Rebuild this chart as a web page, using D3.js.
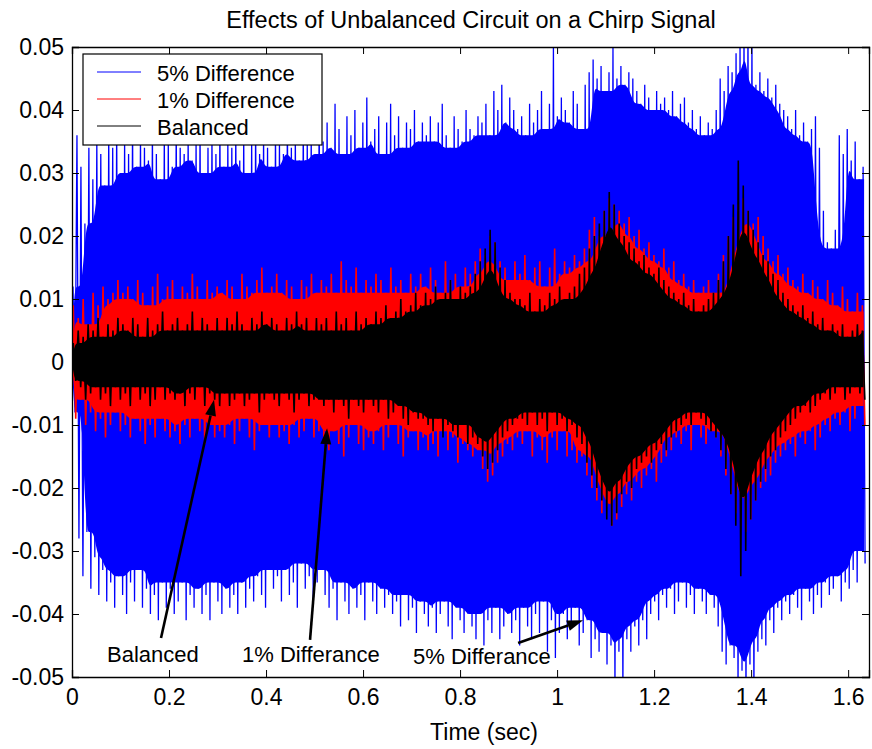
<!DOCTYPE html>
<html><head><meta charset="utf-8">
<script src="https://cdn.jsdelivr.net/npm/d3@7/dist/d3.min.js"></script>
<style>
body{margin:0;background:#fff;}
text{font-family:Arial,"Liberation Sans",Helvetica,sans-serif;fill:#000;}
</style>
</head><body>
<svg id="chart" width="872" height="749"></svg>
<script>
// ---------------- data ----------------
const chartTitle = "Effects of Unbalanced Circuit on a Chirp Signal";
const xAxisLabel = "Time (sec)";
const xTickValues = [0, 0.2, 0.4, 0.6, 0.8, 1.0, 1.2, 1.4, 1.6];
const xTickLabels = ["0", "0.2", "0.4", "0.6", "0.8", "1", "1.2", "1.4", "1.6"];
const yTickValues = [0.05, 0.04, 0.03, 0.02, 0.01, 0, -0.01, -0.02, -0.03, -0.04, -0.05];
const yTickLabels = ["0.05", "0.04", "0.03", "0.02", "0.01", "0", "-0.01", "-0.02", "-0.03", "-0.04", "-0.05"];
const xDomain = [0, 1.643];
const yDomain = [-0.05, 0.05];
const signalDuration = 1.637; // seconds

const seriesNames = ["5% Difference", "1% Difference", "Balanced"];
const seriesColors = ["#0000ff", "#ff0000", "#000000"];

// 5% difference: successive positive / negative peaks
const blueUpper = [
 .012,.036,.031,.022,.034,.029,.035,.033,.028,.036,
 .034,.037,.030,.035,.033,.038,.031,.036,.034,.032,
 .037,.033,.029,.036,.035,.031,.038,.034,.033,.036,
 .032,.035,.037,.030,.034,.036,.033,.038,.031,.035,
 .034,.037,.032,.036,.030,.035,.038,.033,.036,.034,
 .031,.037,.035,.033,.039,.034,.036,.032,.038,.035,
 .036,.033,.040,.035,.038,.034,.041,.037,.033,.039,
 .036,.040,.034,.038,.042,.035,.037,.039,.033,.038,
 .041,.036,.039,.034,.038,.037,.040,.035,.038,.036,
 .039,.035,.038,.041,.036,.034,.039,.037,.035,.040,
 .037,.036,.039,.038,.041,.036,.043,.040,.044,.038,
 .042,.040,.037,.039,.036,.041,.038,.040,.043,.037,
 .041,.050,.039,.042,.040,.038,.043,.041,.037,.044,
 .046,.048,.045,.047,.043,.046,.050,.045,.047,.044,
 .046,.045,.043,.041,.044,.042,.040,.043,.041,.042,
 .040,.043,.039,.041,.042,.038,.040,.037,.039,.036,
 .038,.037,.040,.045,.043,.047,.046,.049,.050,.052,
 .053,.051,.044,.046,.043,.045,.042,.044,.041,.040,
 .039,.037,.040,.036,.038,.035,.037,.039,.034,.024,
 .019,.018,.021,.036,.033,.037,.032,.035,.029,.031];
const blueLower = [
 -.008,-.028,-.034,-.027,-.036,-.031,-.037,-.033,-.038,-.035,
 -.039,-.034,-.037,-.040,-.035,-.038,-.033,-.039,-.036,-.040,
 -.037,-.041,-.035,-.039,-.036,-.040,-.038,-.035,-.041,-.037,
 -.039,-.036,-.040,-.037,-.041,-.035,-.038,-.040,-.036,-.039,
 -.037,-.040,-.035,-.039,-.036,-.038,-.034,-.037,-.039,-.033,
 -.036,-.034,-.038,-.033,-.037,-.035,-.039,-.032,-.036,-.034,
 -.038,-.035,-.033,-.037,-.039,-.036,-.041,-.035,-.038,-.040,
 -.036,-.039,-.037,-.041,-.035,-.038,-.040,-.036,-.039,-.037,
 -.040,-.038,-.042,-.037,-.041,-.039,-.043,-.038,-.040,-.042,
 -.039,-.043,-.040,-.038,-.042,-.044,-.039,-.041,-.043,-.040,
 -.042,-.044,-.040,-.045,-.041,-.043,-.039,-.044,-.042,-.040,
 -.043,-.041,-.045,-.039,-.042,-.044,-.040,-.043,-.038,-.046,
 -.041,-.047,-.043,-.040,-.044,-.042,-.039,-.045,-.043,-.041,
 -.047,-.044,-.046,-.043,-.048,-.045,-.052,-.046,-.053,-.044,
 -.046,-.042,-.045,-.041,-.044,-.040,-.038,-.041,-.037,-.039,
 -.036,-.040,-.038,-.035,-.039,-.037,-.040,-.036,-.038,-.040,
 -.037,-.039,-.042,-.046,-.048,-.045,-.047,-.052,-.049,-.054,
 -.048,-.053,-.046,-.044,-.045,-.041,-.043,-.039,-.041,-.038,
 -.040,-.037,-.039,-.041,-.036,-.038,-.040,-.037,-.039,-.035,
 -.037,-.036,-.034,-.038,-.035,-.036,-.033,-.035,-.030,-.032];

// 1% difference
const redUpper = [
 .009,.007,.010,.006,.011,.009,.012,.010,.011,.013,
 .011,.012,.010,.013,.011,.009,.012,.014,.010,.012,
 .013,.010,.012,.011,.014,.012,.010,.013,.011,.012,
 .011,.013,.012,.010,.014,.012,.011,.013,.015,.011,
 .012,.014,.011,.013,.012,.010,.013,.012,.014,.011,
 .013,.012,.014,.011,.016,.013,.012,.015,.011,.013,
 .012,.014,.013,.011,.015,.012,.013,.011,.014,.012,
 .014,.012,.015,.013,.011,.016,.013,.014,.012,.015,
 .014,.016,.018,.017,.020,.019,.016,.015,.013,.016,
 .014,.017,.013,.015,.016,.012,.015,.018,.014,.016,
 .015,.017,.016,.018,.021,.023,.020,.024,.026,.025,
 .024,.022,.023,.020,.021,.018,.019,.017,.016,.018,
 .015,.016,.013,.014,.012,.013,.011,.012,.013,.011,
 .014,.017,.020,.023,.025,.026,.024,.022,.023,.020,
 .018,.016,.017,.014,.015,.013,.012,.014,.011,.013,
 .012,.010,.013,.011,.009,.012,.010,.008,.011,.009];
const redLower = [
 -.009,-.006,-.010,-.008,-.011,-.009,-.012,-.010,-.008,-.011,
 -.010,-.012,-.009,-.011,-.013,-.010,-.012,-.009,-.011,-.012,
 -.011,-.013,-.010,-.012,-.009,-.011,-.013,-.010,-.012,-.011,
 -.012,-.010,-.013,-.011,-.009,-.012,-.014,-.011,-.010,-.012,
 -.010,-.012,-.011,-.013,-.010,-.012,-.011,-.009,-.012,-.011,
 -.012,-.014,-.011,-.013,-.015,-.012,-.010,-.013,-.014,-.012,
 -.013,-.011,-.014,-.012,-.010,-.013,-.015,-.012,-.011,-.014,
 -.012,-.014,-.013,-.015,-.011,-.014,-.012,-.016,-.013,-.014,
 -.015,-.014,-.017,-.019,-.018,-.016,-.015,-.013,-.014,-.012,
 -.013,-.011,-.015,-.012,-.014,-.016,-.012,-.014,-.011,-.015,
 -.014,-.016,-.015,-.018,-.020,-.022,-.024,-.023,-.026,-.025,
 -.023,-.021,-.022,-.019,-.020,-.018,-.017,-.019,-.016,-.015,
 -.014,-.012,-.013,-.011,-.014,-.010,-.012,-.013,-.011,-.012,
 -.015,-.018,-.021,-.024,-.026,-.027,-.025,-.022,-.020,-.019,
 -.018,-.016,-.015,-.014,-.013,-.015,-.012,-.013,-.011,-.014,
 -.012,-.010,-.011,-.009,-.010,-.008,-.011,-.009,-.007,-.010];

// Balanced
const blackUpper = [
 .003,.005,.004,.006,.005,.007,.004,.006,.005,.007,
 .006,.005,.007,.006,.004,.007,.005,.006,.008,.005,
 .006,.007,.005,.006,.008,.005,.007,.006,.005,.007,
 .005,.007,.006,.008,.006,.005,.007,.006,.008,.006,
 .007,.006,.005,.007,.006,.008,.006,.007,.005,.007,
 .006,.007,.005,.008,.006,.007,.005,.008,.006,.007,
 .006,.008,.007,.009,.007,.008,.010,.008,.009,.011,
 .009,.011,.010,.012,.010,.011,.013,.010,.012,.011,
 .012,.014,.016,.018,.021,.019,.015,.013,.011,.010,
 .010,.009,.011,.008,.010,.009,.011,.010,.012,.010,
 .011,.012,.014,.015,.018,.020,.022,.024,.027,.025,
 .022,.020,.019,.018,.016,.017,.015,.014,.015,.013,
 .012,.011,.010,.011,.009,.010,.008,.009,.010,.011,
 .013,.016,.020,.025,.032,.028,.024,.021,.019,.017,
 .016,.014,.013,.011,.010,.009,.008,.009,.007,.008,
 .006,.007,.005,.006,.005,.006,.004,.005,.006,.005];
const blackLower = [
 -.003,-.004,-.006,-.005,-.004,-.006,-.005,-.007,-.004,-.006,
 -.005,-.007,-.004,-.006,-.005,-.007,-.006,-.004,-.006,-.005,
 -.006,-.005,-.007,-.005,-.006,-.004,-.007,-.005,-.006,-.007,
 -.005,-.007,-.006,-.005,-.007,-.006,-.005,-.008,-.006,-.005,
 -.006,-.007,-.005,-.006,-.008,-.006,-.005,-.007,-.006,-.006,
 -.007,-.006,-.008,-.006,-.007,-.009,-.006,-.007,-.008,-.006,
 -.007,-.008,-.006,-.009,-.008,-.007,-.009,-.010,-.008,-.009,
 -.009,-.010,-.011,-.009,-.012,-.010,-.011,-.012,-.010,-.013,
 -.012,-.013,-.015,-.017,-.016,-.014,-.012,-.011,-.010,-.009,
 -.009,-.010,-.008,-.010,-.009,-.011,-.008,-.010,-.009,-.011,
 -.010,-.012,-.013,-.016,-.018,-.020,-.022,-.025,-.026,-.024,
 -.021,-.019,-.020,-.017,-.016,-.015,-.016,-.014,-.013,-.014,
 -.012,-.011,-.010,-.009,-.010,-.008,-.009,-.010,-.011,-.012,
 -.014,-.017,-.021,-.026,-.034,-.030,-.025,-.022,-.019,-.017,
 -.015,-.014,-.012,-.011,-.010,-.009,-.008,-.007,-.008,-.007,
 -.006,-.005,-.006,-.005,-.004,-.006,-.005,-.004,-.005,-.006];

// annotations (data coordinates: time, value)
const annotationTexts = ["Balanced", "1% Differance", "5% Differance"];
const annotationTextPos = [[0.0722, -0.0476], [0.3505, -0.0476], [0.7031, -0.0479]];
const arrowTails = [[0.1835, -0.0438], [0.4907, -0.0441], [0.9196, -0.0446]];
const arrowHeads = [[0.2928, -0.0060], [0.5258, -0.0105], [1.0536, -0.0410]];

// ---------------- drawing ----------------
const W = 872, H = 749;
const margin = {left: 72, right: 3, top: 47, bottom: 72};
const plotW = W - margin.left - margin.right;
const plotH = H - margin.top - margin.bottom;

const svg = d3.select("#chart");
svg.append("rect").attr("width", W).attr("height", H).attr("fill", "#fff");

const x = d3.scaleLinear().domain(xDomain).range([margin.left, margin.left + plotW]);
const y = d3.scaleLinear().domain(yDomain).range([margin.top + plotH, margin.top]);

svg.append("defs").append("clipPath").attr("id", "plotclip")
  .append("rect").attr("x", margin.left).attr("y", margin.top)
  .attr("width", plotW).attr("height", plotH);

// zig-zag through successive peaks
function peaksToPoints(upper, lower) {
  const n = upper.length;
  const dt = signalDuration / n;
  const pts = [[0, 0]];
  for (let i = 0; i < n; i++) {
    pts.push([(i + 0.25) * dt, upper[i]]);
    pts.push([(i + 0.75) * dt, lower[i]]);
  }
  return pts;
}
// densely filled core: the band reached by every nearby oscillation
function corePoints(upper, lower, k) {
  const n = upper.length;
  const dt = signalDuration / n;
  const pts = [{t: 0, hi: 0, lo: 0}];
  for (let i = 0; i < n; i++) {
    const a = Math.max(0, i - k), b = Math.min(n, i + k + 1);
    pts.push({t: (i + 0.5) * dt,
              hi: d3.min(upper.slice(a, b)),
              lo: d3.max(lower.slice(a, b))});
  }
  return pts;
}

const line = d3.line().x(d => x(d[0])).y(d => y(d[1]));
const area = d3.area().curve(d3.curveBasis).x(d => x(d.t)).y0(d => y(d.lo)).y1(d => y(d.hi));
const series = [
  {up: blueUpper, lo: blueLower, color: seriesColors[0], w: 1.3, k: 2},
  {up: redUpper, lo: redLower, color: seriesColors[1], w: 1.6, k: 2},
  {up: blackUpper, lo: blackLower, color: seriesColors[2], w: 1.6, k: 2}
];
const plotG = svg.append("g").attr("clip-path", "url(#plotclip)");
series.forEach(s => {
  plotG.append("path").attr("d", area(corePoints(s.up, s.lo, s.k)))
    .attr("fill", s.color).attr("stroke", "none");
  plotG.append("path").attr("d", line(peaksToPoints(s.up, s.lo))).attr("fill", "none")
    .attr("stroke", s.color).attr("stroke-width", s.w);
});

// axes box with inward ticks (MATLAB style)
const tickLen = 7;
const axG = svg.append("g");
const fontSize = 23;
const xb = d3.axisBottom(x).tickValues(xTickValues).tickSize(-tickLen).tickPadding(12)
  .tickFormat((d, i) => xTickLabels[i]);
const xt = d3.axisTop(x).tickValues(xTickValues).tickSize(-tickLen).tickFormat("");
const yl = d3.axisLeft(y).tickValues(yTickValues).tickSize(-tickLen).tickPadding(8)
  .tickFormat((d, i) => yTickLabels[i]);
const yr = d3.axisRight(y).tickValues(yTickValues).tickSize(-tickLen).tickFormat("");
axG.append("g").attr("transform", `translate(0,${margin.top + plotH})`).call(xb);
axG.append("g").attr("transform", `translate(0,${margin.top})`).call(xt);
axG.append("g").attr("transform", `translate(${margin.left},0)`).call(yl);
axG.append("g").attr("transform", `translate(${margin.left + plotW},0)`).call(yr);
axG.selectAll("path.domain").attr("stroke", "#000").attr("stroke-width", 1.3);
axG.selectAll(".tick line").attr("stroke", "#000").attr("stroke-width", 1);
axG.selectAll(".tick text").attr("font-size", fontSize).attr("font-family", "Arial, 'Liberation Sans', sans-serif").attr("fill", "#000");

// title & x label
svg.append("text").attr("x", 471).attr("y", 28).attr("text-anchor", "middle")
  .attr("font-size", 23.5).text(chartTitle);
svg.append("text").attr("x", 484).attr("y", 740).attr("text-anchor", "middle")
  .attr("font-size", fontSize).text(xAxisLabel);

// legend
const lg = svg.append("g");
lg.append("rect").attr("x", 83).attr("y", 54).attr("width", 239).attr("height", 91)
  .attr("fill", "#fff").attr("stroke", "#000").attr("stroke-width", 1.2);
seriesNames.forEach((name, i) => {
  const cy = 72 + i * 27;
  lg.append("line").attr("x1", 97).attr("x2", 141).attr("y1", cy).attr("y2", cy)
    .attr("stroke", seriesColors[i]).attr("stroke-width", 1);
  lg.append("text").attr("x", 157).attr("y", cy + 9).attr("font-size", 22).text(name);
});

// annotations
const annG = svg.append("g");
annotationTexts.forEach((t, i) => {
  annG.append("text").attr("x", x(annotationTextPos[i][0])).attr("y", y(annotationTextPos[i][1]))
    .attr("font-size", 22).text(t);
  const x1 = x(arrowTails[i][0]), y1 = y(arrowTails[i][1]);
  const x2 = x(arrowHeads[i][0]), y2 = y(arrowHeads[i][1]);
  const ang = Math.atan2(y2 - y1, x2 - x1);
  const hl = 16, hw = 5.5;
  const bx = x2 - hl * Math.cos(ang), by = y2 - hl * Math.sin(ang);
  annG.append("line").attr("x1", x1).attr("y1", y1).attr("x2", bx).attr("y2", by)
    .attr("stroke", "#000").attr("stroke-width", 2.6);
  const p = [[x2, y2],
             [bx + hw * Math.sin(ang), by - hw * Math.cos(ang)],
             [bx - hw * Math.sin(ang), by + hw * Math.cos(ang)]];
  annG.append("path").attr("d", "M" + p.map(q => q.join(",")).join("L") + "Z").attr("fill", "#000");
});
</script>
</body></html>
